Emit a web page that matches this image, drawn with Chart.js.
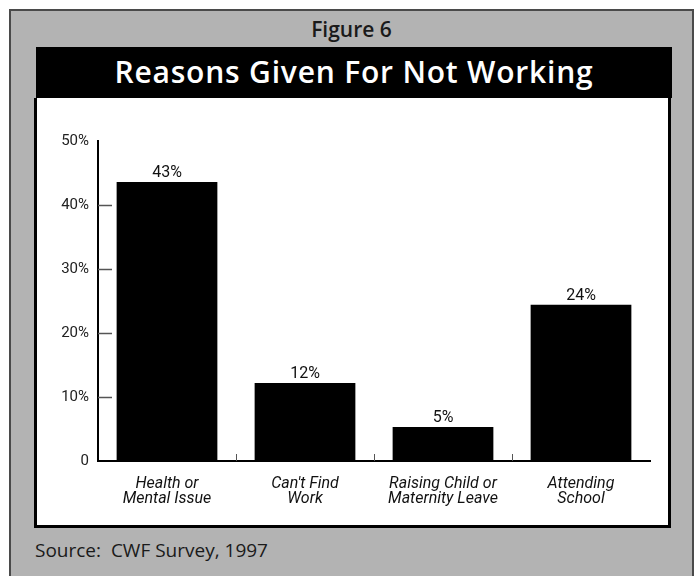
<!DOCTYPE html>
<html>
<head>
<meta charset="utf-8">
<script src="https://cdn.jsdelivr.net/npm/chart.js@4.4.1/dist/chart.umd.min.js"></script>
<style>
  html, body { margin: 0; padding: 0; background: #fff; }
  body { width: 694px; height: 576px; position: relative; overflow: hidden; }
  #panel {
    position: absolute; left: 9px; top: 9px; width: 681px; height: 580px;
    background: #b3b3b3; border: 2px solid #4a4a4a; border-bottom: none;
  }
  #fig {
    position: absolute; left: 0; top: 3px; width: 100%; text-align: center;
    font: 600 21px "Open Sans", sans-serif; color: #1a1a1a; line-height: 30px;
  }
  #titlebar {
    position: absolute; left: 25px; top: 36px; width: 636px; height: 51px;
    background: #000; color: #fff; text-align: center; letter-spacing: 0.8px;
    font: 600 30px "Open Sans", sans-serif; line-height: 50px;
  }
  #box {
    position: absolute; left: 23px; top: 87px; width: 631px; height: 427px;
    background: #fff; border: 3px solid #000; border-top: none;
  }
  #source {
    position: absolute; left: 24px; top: 526px;
    font: 400 19px "Open Sans", sans-serif; color: #1a1a1a; white-space: pre;
  }
</style>
</head>
<body>
<div id="panel">
  <div id="fig">Figure 6</div>
  <div id="titlebar">Reasons Given For Not Working</div>
  <div id="box"><canvas id="myChart" width="631" height="427"></canvas></div>
  <div id="source">Source:  CWF Survey, 1997</div>
</div>
<script>
var categories = [
    ["Health or", "Mental Issue"],
    ["Can't Find", "Work"],
    ["Raising Child or", "Maternity Leave"],
    ["Attending", "School"]
]
var percents = [43.6, 12.2, 5.3, 24.4]
var barLabels = ["43%", "12%", "5%", "24%"]
var yTickLabels = ["0", "10%", "20%", "30%", "40%", "50%"]

var chartFont = 'Roboto, "Liberation Sans", sans-serif'

// inward ticks on the value axis, category dividers on the base axis, value labels
var marks = {
    id: 'marks',
    afterDatasetsDraw: function(chart) {
        var ctx = chart.ctx
        var x = chart.scales.x
        var y = chart.scales.y
        ctx.save()
        ctx.strokeStyle = '#555'
        ctx.lineWidth = 1.5
        for (var v = 10; v < 50; v += 10) {
            var py = Math.round(y.getPixelForValue(v)) + 0.5
            ctx.beginPath()
            ctx.moveTo(x.left, py)
            ctx.lineTo(x.left + 14, py)
            ctx.stroke()
        }
        ctx.lineWidth = 1
        for (var i = 0; i < categories.length - 1; i++) {
            var px = Math.round((x.getPixelForValue(i) + x.getPixelForValue(i + 1)) / 2) + 0.5
            ctx.beginPath()
            ctx.moveTo(px, y.bottom)
            ctx.lineTo(px, y.bottom - 7)
            ctx.stroke()
        }
        ctx.fillStyle = '#111'
        ctx.font = '16px ' + chartFont
        ctx.textAlign = 'center'
        ctx.textBaseline = 'alphabetic'
        chart.getDatasetMeta(0).data.forEach(function(bar, i) {
            ctx.fillText(barLabels[i], bar.x, bar.y - 5)
        })
        ctx.restore()
    }
}

var ctx = document.getElementById('myChart').getContext('2d')

var chart = new Chart(ctx, {
    type: 'bar',
    data: {
        labels: categories,
        datasets: [{
            data: percents,
            backgroundColor: '#000',
            borderWidth: 0,
            barPercentage: 0.73,
            categoryPercentage: 1
        }]
    },
    options: {
        responsive: false,
        animation: false,
        layout: { padding: { top: 43, right: 18, left: 0, bottom: 0 } },
        plugins: {
            legend: { display: false },
            tooltip: { enabled: false }
        },
        scales: {
            x: {
                offset: true,
                grid: { display: false, drawTicks: false },
                border: { display: true, color: '#000', width: 2 },
                ticks: {
                    color: '#111',
                    padding: 15,
                    maxRotation: 0,
                    font: { family: chartFont, size: 16, style: 'italic', lineHeight: 0.95 }
                },
                afterFit: function(s) { s.height = 64 }
            },
            y: {
                min: 0,
                max: 50,
                grid: { display: false, drawTicks: false },
                border: { display: true, color: '#000', width: 2 },
                ticks: {
                    stepSize: 10,
                    color: '#222',
                    padding: 9,
                    font: { family: chartFont, size: 15 },
                    callback: function(v, i) { return yTickLabels[i] }
                },
                afterFit: function(s) { s.width = 61 }
            }
        }
    },
    plugins: [marks]
})
</script>
</body>
</html>
